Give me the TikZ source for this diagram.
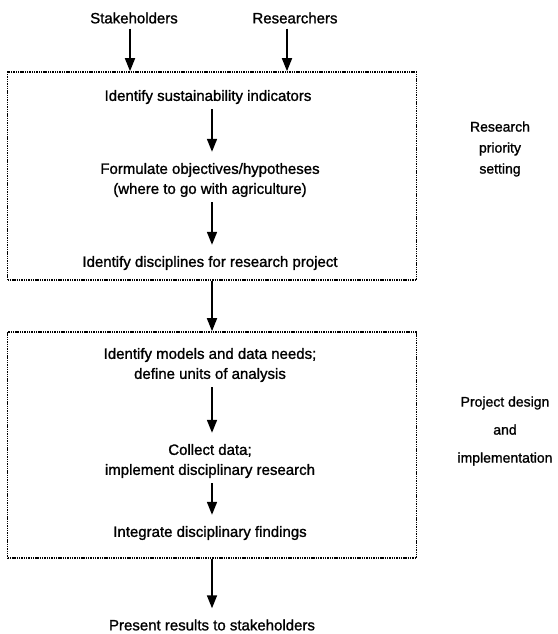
\documentclass[tikz,border=0pt]{standalone}
\usepackage{fontspec}
\setmainfont{Liberation Sans}
\newfontfamily\scanfont{Liberation Sans}[FakeBold=1.2]
\usetikzlibrary{arrows.meta, positioning}

\begin{document}
\begin{tikzpicture}[
    x=1pt, y=-1pt,
    every node/.style={font=\scanfont\fontsize{15}{20}\selectfont},
    stepnode/.style={align=center, inner sep=1pt},
    phase/.style={draw, dash pattern=on 1.4pt off 0.9pt, line width=1.6pt, minimum width=409pt, inner sep=0pt},
    sidelabel/.style={align=center, inner sep=0pt},
    arrow/.style={-{Triangle[length=13pt, width=10pt]}, line width=1.7pt, shorten <=4pt, shorten >=10pt}
]
    \useasboundingbox (0,0) rectangle (557,634);

    % inputs
    \node[stepnode] (stake) at (134,18) {Stakeholders};
    \node[stepnode] (resr) at (295,18) {Researchers};

    % research priority setting
    \node[phase, minimum height=208pt] (prio) at (212,176) {};
    \node[stepnode] (indic) at (208,97) {Identify sustainability indicators};
    \node[stepnode] (object) at (210,180) {Formulate objectives/hypotheses\\(where to go with agriculture)};
    \node[stepnode] (discip) at (210,263) {Identify disciplines for research project};
    \node[sidelabel, font=\scanfont\fontsize{14}{21}\selectfont] (priolab) at (500,149) {Research\\priority\\setting};

    % project design and implementation
    \node[phase, minimum height=226pt] (design) at (212,445) {};
    \node[stepnode] (models) at (210,365) {Identify models and data needs;\\define units of analysis};
    \node[stepnode] (collect) at (210,461) {Collect data;\\implement disciplinary research};
    \node[stepnode] (integr) at (210,533) {Integrate disciplinary findings};
    \node[sidelabel, font=\scanfont\fontsize{14}{28}\selectfont] (designlab) at (505,431) {Project design\\and\\implementation};

    \node[stepnode] (present) at (212,625) {Present results to stakeholders};

    \draw[arrow, shorten >=0pt] (stake.south -| 130,0) -- (prio.north -| 130,0);
    \draw[arrow, shorten >=0pt] (resr.south -| 287,0) -- (prio.north -| 287,0);
    \draw[arrow] (indic.south -| prio.north) -- (object.north -| prio.north);
    \draw[arrow] (object.south -| prio.north) -- (discip.north -| prio.north);
    \draw[arrow, shorten <=0pt, shorten >=0pt] (prio.south) -- (design.north);
    \draw[arrow] (models.south -| design.north) -- (collect.north -| design.north);
    \draw[arrow] (collect.south -| design.north) -- (integr.north -| design.north);
    \draw[arrow, shorten <=0pt] (design.south) -- (present.north -| design.south);
\end{tikzpicture}
\end{document}
